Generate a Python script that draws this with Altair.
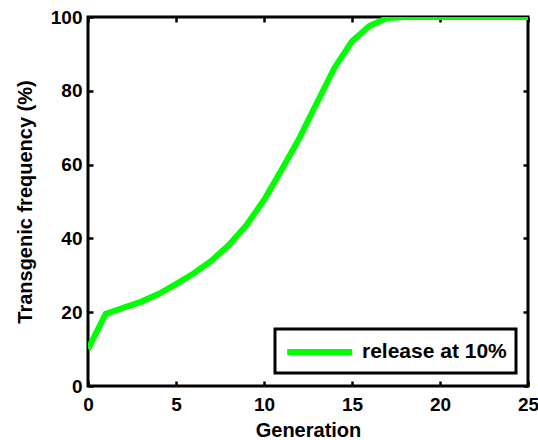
import altair as alt
import pandas as pd

generation = list(range(0, 26))
frequency = [10, 19.5, 21.2, 22.8, 24.9, 27.6, 30.5, 33.9, 38.2, 43.6, 50.4, 58.6,
             67.1, 76.7, 86.2, 93.4, 97.6, 99.7, 100, 100, 100, 100, 100, 100, 100, 100]
series_name = "release at 10%"
x_ticks = [0, 5, 10, 15, 20, 25]
y_ticks = [0, 20, 40, 60, 80, 100]

df = pd.DataFrame({
    "Generation": generation,
    "Frequency": frequency,
    "Series": [series_name] * len(generation),
})

font = "Liberation Sans"
x_scale = alt.Scale(domain=[0, 25], nice=False, zero=False)
y_scale = alt.Scale(domain=[0, 100], nice=False)

tick_common = dict(offset=-5, tickSize=5, tickWidth=2.5, tickColor="black",
                   domain=False, grid=False, labelFlush=False)

line = alt.Chart(df).mark_line(strokeWidth=6, clip=True).encode(
    x=alt.X("Generation:Q", scale=x_scale,
            axis=alt.Axis(values=x_ticks, title="Generation", orient="bottom",
                          labelPadding=9, labelFont=font, labelFontSize=19,
                          labelFontWeight="bold", labelColor="black",
                          titleFont=font, titleFontSize=20, titleFontWeight="bold",
                          titleColor="black", titlePadding=6, **tick_common)),
    y=alt.Y("Frequency:Q", scale=y_scale,
            axis=alt.Axis(values=y_ticks, title="Transgenic frequency (%)", orient="left",
                          labelPadding=6, labelFont=font, labelFontSize=19,
                          labelFontWeight="bold", labelColor="black",
                          titleFont=font, titleFontSize=20, titleFontWeight="bold",
                          titleColor="black", titlePadding=15, **tick_common)),
    color=alt.Color("Series:N",
                    scale=alt.Scale(domain=[series_name], range=["#00ff00"]),
                    legend=alt.Legend(title="", orient="none", legendX=187, legendY=312,
                                      symbolType="M-1,0H5", symbolStrokeWidth=6,
                                      symbolSize=469, labelFont=font, labelFontSize=21,
                                      labelFontWeight="bold", labelColor="black",
                                      labelOffset=50, padding=9, strokeColor="black",
                                      fillColor="white", cornerRadius=0)),
)

mirror = alt.Chart(df).mark_point(opacity=0).encode(
    x=alt.X("Generation:Q", scale=x_scale,
            axis=alt.Axis(values=x_ticks, title="", orient="top", labels=False, **tick_common)),
    y=alt.Y("Frequency:Q", scale=y_scale,
            axis=alt.Axis(values=y_ticks, title="", orient="right", labels=False, **tick_common)),
)

chart = (
    alt.layer(line, mirror)
    .resolve_scale(x="independent", y="independent")
    .resolve_axis(x="independent", y="independent")
    .properties(width=440, height=369,
                autosize=alt.AutoSizeParams(type="none"),
                padding={"left": 88, "top": 17, "right": 10, "bottom": 54})
    .configure_view(stroke="black", strokeWidth=3)
    .configure_legend(strokeWidth=3)
)

chart.save("out.html", embed_options={"renderer": "svg", "actions": False})
